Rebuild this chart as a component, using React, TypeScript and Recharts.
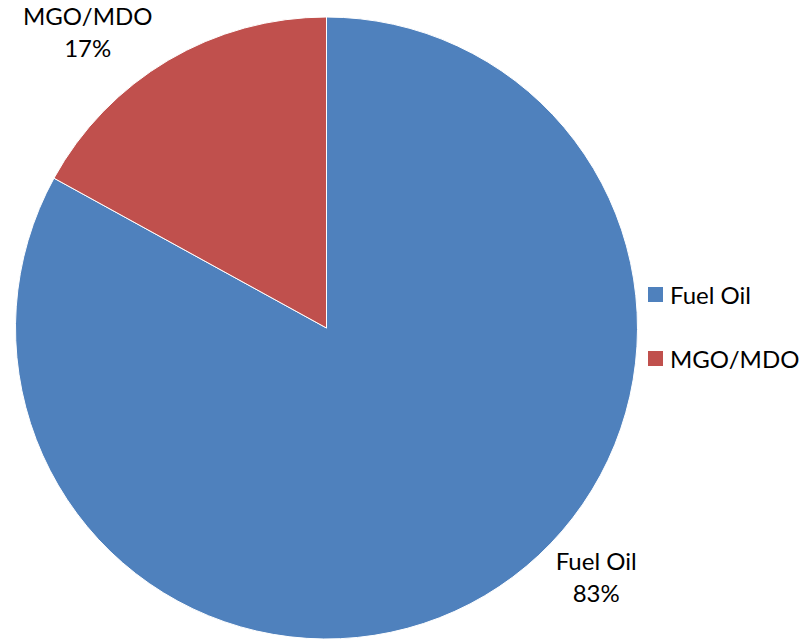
import React from 'react'
import { PieChart, Pie, Cell, Legend } from 'recharts'

const categories = ['Fuel Oil', 'MGO/MDO']
const shares = [83, 17]
const COLORS = ['#4F81BD', '#C0504D']

const pieData = categories.map((name, i) => ({ name, value: shares[i] }))

// Excel "best fit" placement, angle in degrees around the centre
const LABEL_ANGLES: Record<string, number> = { 'Fuel Oil': -43.7, 'MGO/MDO': 129.8 }
const FONT = 'Lato, "Open Sans", sans-serif'
const RAD = Math.PI / 180

const renderLabel = (props: any) => {
  const { cx, cy, outerRadius, name, percent } = props
  const ang = LABEL_ANGLES[name] ?? props.midAngle
  const r = outerRadius + 62
  const x = cx + r * Math.cos(ang * RAD)
  const y = cy - r * Math.sin(ang * RAD)
  return (
    <text x={x} y={y} textAnchor="middle" fill="#000" fontSize={24} fontFamily={FONT}>
      <tspan x={x} dy={-16}>{name}</tspan>
      <tspan x={x} dy={32}>{`${Math.round(percent * 100)}%`}</tspan>
    </text>
  )
}

const renderLegend = (props: any) => {
  const { payload } = props
  return (
    <div style={{ fontFamily: FONT, fontSize: 24 }}>
      {payload.map((entry: any, i: number) => (
        <div key={`leg-${i}`} style={{ display: 'flex', alignItems: 'center', height: 64 }}>
          <span style={{ width: 15, height: 15, background: entry.color, display: 'inline-block', marginRight: 7 }} />
          <span style={{ color: '#000' }}>{entry.value}</span>
        </div>
      ))}
    </div>
  )
}

const App = () => {
  return (
    <div style={{ position: 'absolute', left: 0, top: 0 }}>
      <PieChart width={811} height={641} margin={{ top: 0, right: 0, bottom: 0, left: 0 }}>
        <Pie
          data={pieData}
          cx={326.5}
          cy={328}
          outerRadius={311}
          startAngle={90}
          endAngle={-270}
          dataKey="value"
          nameKey="name"
          stroke="#fff"
          strokeWidth={1}
          labelLine={false}
          label={renderLabel}
          isAnimationActive={false}
        >
          {pieData.map((entry, index) => (
            <Cell key={`cell-${index}`} fill={COLORS[index]} />
          ))}
        </Pie>
        <Legend
          layout="vertical"
          content={renderLegend}
          wrapperStyle={{ position: 'absolute', left: 648, top: 262, width: 160 }}
        />
      </PieChart>
    </div>
  )
}

export default App
